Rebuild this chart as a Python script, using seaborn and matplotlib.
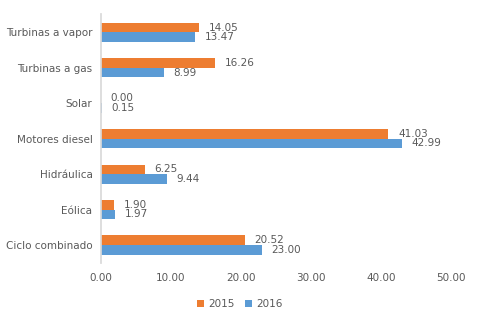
import matplotlib
matplotlib.use("Agg")
import matplotlib.pyplot as plt
import seaborn as sns
import pandas as pd

categories = ["Turbinas a vapor", "Turbinas a gas", "Solar", "Motores diesel",
              "Hidráulica", "Eólica", "Ciclo combinado"]
values_2015 = [14.05, 16.26, 0.00, 41.03, 6.25, 1.90, 20.52]
values_2016 = [13.47, 8.99, 0.15, 42.99, 9.44, 1.97, 23.00]
years = ["2015", "2016"]
xticks = [0, 10, 20, 30, 40, 50]

df = pd.DataFrame({
    "cat": categories * 2,
    "val": values_2015 + values_2016,
    "year": [years[0]] * len(categories) + [years[1]] * len(categories),
})

sns.set_theme(style="white")
plt.rcParams["font.family"] = ["DejaVu Sans"]
text_color = "#595959"
fs = 7.5

fig = plt.figure(figsize=(4.8, 3.24), dpi=100)
ax = fig.add_axes([0.21, 0.188, 0.73, 0.769])
sns.barplot(data=df, y="cat", x="val", hue="year", order=categories,
            hue_order=years, palette=["#ED7D31", "#5B9BD5"], width=0.54,
            orient="h", ax=ax, saturation=1, legend=True, linewidth=0,
            gap=0)

for cont in ax.containers:
    ax.bar_label(cont, fmt="%.2f", padding=7, fontsize=fs, color=text_color)

ax.set_xlim(0, 50)
ax.set_xticks(xticks)
ax.set_xticklabels([f"{v:.2f}" for v in xticks])
ax.set_xlabel("")
ax.set_ylabel("")
ax.tick_params(axis="both", length=0, labelsize=fs, colors=text_color)
ax.tick_params(axis="y", pad=6)
ax.tick_params(axis="x", pad=7)
for s in ["top", "right", "bottom"]:
    ax.spines[s].set_visible(False)
ax.spines["left"].set_color("#D9D9D9")
ax.set_ylim(6.51, -0.52)

handles, labels = ax.get_legend_handles_labels()
ax.get_legend().remove()
fig.legend(handles, labels, loc="center", bbox_to_anchor=(0.5, 0.062), ncol=2,
           frameon=False, fontsize=fs, handlelength=0.7, handleheight=0.7,
           columnspacing=1.0, handletextpad=0.4, labelcolor=text_color)

fig.savefig("out.png", dpi=100)
